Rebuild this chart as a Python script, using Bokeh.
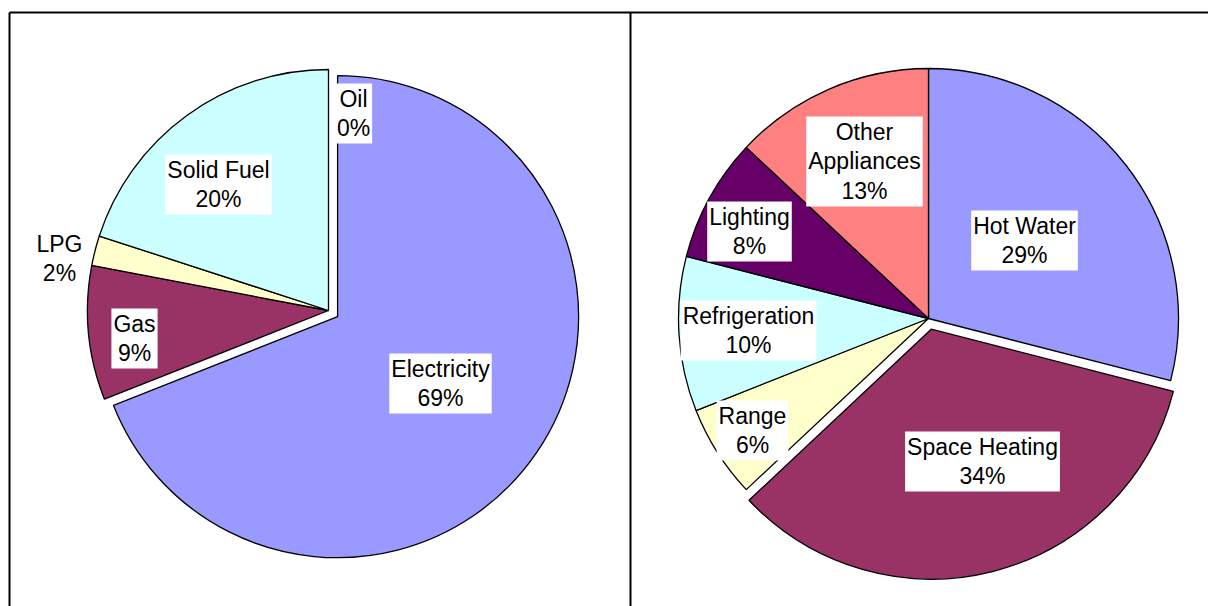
import math
from bokeh.plotting import figure
from bokeh.models import ColumnDataSource, Range1d
from bokeh.core.properties import value
from bokeh.embed import file_html
from bokeh.resources import INLINE

# ---- data ----
fuel_labels = ["Electricity", "Gas", "LPG", "Solid Fuel", "Oil"]
fuel_values = [69, 9, 2, 20, 0]
fuel_colors = ["#9999FF", "#993366", "#FFFFCC", "#CCFFFF", "#FFFFFF"]

use_labels = ["Hot Water", "Space Heating", "Range", "Refrigeration", "Lighting", "Other Appliances"]
use_values = [29, 34, 6, 10, 8, 13]
use_colors = ["#9999FF", "#993366", "#FFFFCC", "#CCFFFF", "#660066", "#FF8080"]

# ---- layout (page pixel coords) ----
W, H = 1208, 606
def yd(page_y):
    return H - page_y

p = figure(width=W, height=H, output_backend="svg", toolbar_location=None,
           x_range=Range1d(0, W), y_range=Range1d(0, H), min_border=0)
p.axis.visible = False
p.grid.visible = False
p.outline_line_color = None
p.background_fill_color = "white"
p.border_fill_color = "white"

# frame boxes
bx = dict(x0=[9, 9, 630], y0=[yd(12), yd(12), yd(12)],
          x1=[W, 9, 630], y1=[yd(12), 0, 0])
p.segment(x0="x0", y0="y0", x1="x1", y1="y1", source=ColumnDataSource(bx),
          line_color="black", line_width=2)

def draw_pie(labels, values, colors, cx, cy, r, explode_idx, explode, label_pos, texts):
    total = float(sum(values))
    xs, ys, starts, ends, cols = [], [], [], [], []
    cum = 0.0
    for i, v in enumerate(values):
        f0 = cum / total
        cum += v
        f1 = cum / total
        if v <= 0:
            continue
        a0 = math.pi / 2 - 2 * math.pi * f0
        a1 = math.pi / 2 - 2 * math.pi * f1
        mid = (a0 + a1) / 2
        off = explode if i == explode_idx else 0
        xs.append(cx + off * math.cos(mid))
        ys.append(cy + off * math.sin(mid))
        starts.append(a0)
        ends.append(a1)
        cols.append(colors[i])
    src = ColumnDataSource(dict(x=xs, y=ys, s=starts, e=ends, c=cols))
    p.wedge(x="x", y="y", radius=r, start_angle="s", end_angle="e", direction="clock",
            fill_color="c", line_color="black", line_width=1.3, source=src)
    lsrc = ColumnDataSource(dict(x=[q[0] for q in label_pos], y=[yd(q[1]) for q in label_pos],
                                 t=texts))
    p.text(x="x", y="y", text="t", source=lsrc, text_align="center", text_baseline="middle",
           text_font=value("Liberation Sans"), text_font_size="23px", text_color="black",
           text_line_height=1.15, background_fill_color="white", padding=2)

fuel_texts = [f"{l}\n{v}%" for l, v in zip(fuel_labels, fuel_values)]
fuel_pos = [(440, 383), (134, 338), (59, 258), (218, 184), (353, 113)]
draw_pie(fuel_labels, fuel_values, fuel_colors, 328, yd(310), 241, 0, 11, fuel_pos, fuel_texts)

use_texts = [f"{l}\n{v}%" for l, v in zip(use_labels, use_values)]
use_texts[5] = f"Other\nAppliances\n{use_values[5]}%"
use_pos = [(1024, 240), (982, 461), (752, 430), (748, 330), (749, 231), (864, 161)]
draw_pie(use_labels, use_values, use_colors, 928, yd(318), 250, 1, 11, use_pos, use_texts)

open("out.html", "w").write(file_html(p, INLINE))
